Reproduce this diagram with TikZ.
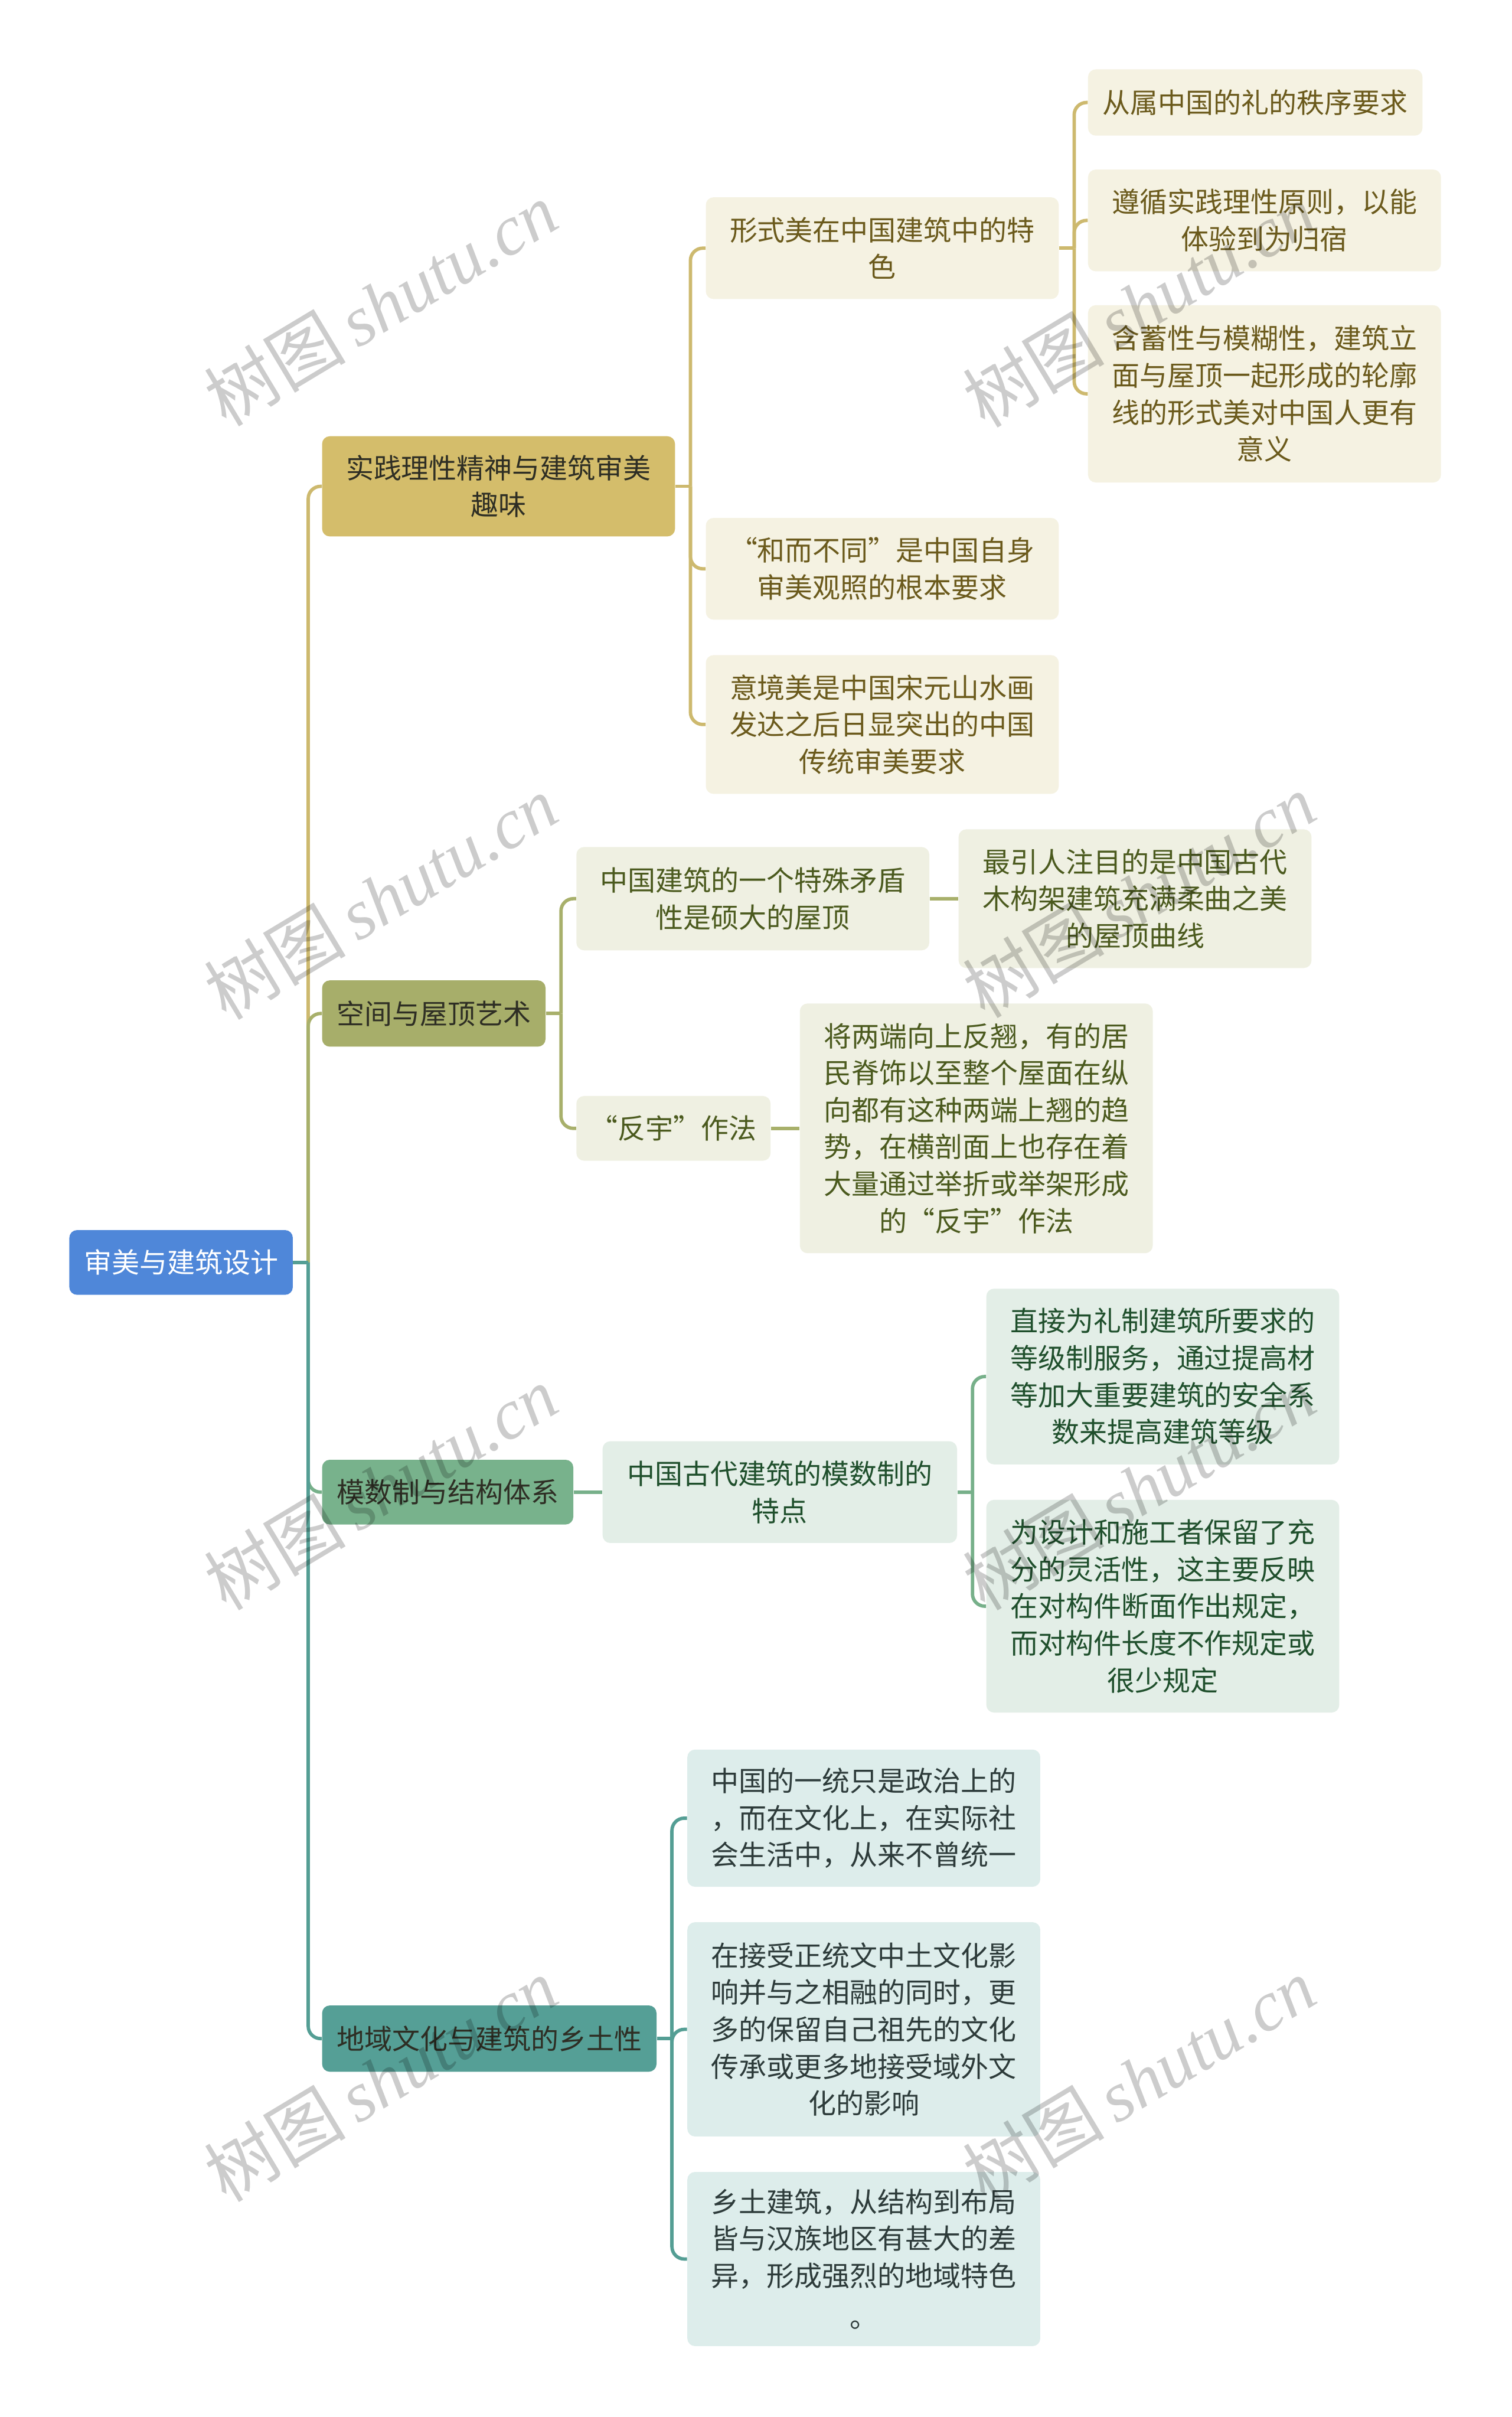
\documentclass[tikz,border=0pt]{standalone}
\usepackage{fontspec}
\setmainfont{Noto Sans CJK SC}
\newfontfamily\wmlatin{Liberation Serif}
\definecolor{rootfill}{HTML}{4F87D9}
\definecolor{goldfill}{HTML}{D4BD6B}
\definecolor{goldline}{HTML}{CDB96E}
\definecolor{goldlight}{HTML}{F5F2E2}
\definecolor{goldtext}{HTML}{6B5A1C}
\definecolor{olivefill}{HTML}{A7AE6A}
\definecolor{oliveline}{HTML}{A8B06B}
\definecolor{olivelight}{HTML}{EFF0E2}
\definecolor{olivetext}{HTML}{4B5A1E}
\definecolor{greenfill}{HTML}{78B28C}
\definecolor{greenline}{HTML}{77B08A}
\definecolor{greenlight}{HTML}{E3EEE7}
\definecolor{greentext}{HTML}{1F4F2C}
\definecolor{tealfill}{HTML}{559F96}
\definecolor{tealline}{HTML}{549E94}
\definecolor{teallight}{HTML}{DDEDEB}
\definecolor{tealtext}{HTML}{2D3B3A}
\definecolor{darktext}{HTML}{2E2E24}
\tikzset{
  box/.style={rounded corners=5pt, align=center, inner sep=0pt, font=\fontsize{18pt}{24pt}\selectfont},
  rootbox/.style={box, fill=rootfill, text=white},
  goldmain/.style={box, fill=goldfill, text=darktext},
  goldsub/.style={box, fill=goldlight, text=goldtext},
  olivemain/.style={box, fill=olivefill, text=darktext},
  olivesub/.style={box, fill=olivelight, text=olivetext},
  greenmain/.style={box, fill=greenfill, text=darktext},
  greensub/.style={box, fill=greenlight, text=greentext},
  tealmain/.style={box, fill=tealfill, text=darktext},
  tealsub/.style={box, fill=teallight, text=tealtext},
  conn/.style={line width=2.2pt, rounded corners=8pt},
  goldconn/.style={conn, draw=goldline},
  oliveconn/.style={conn, draw=oliveline},
  greenconn/.style={conn, draw=greenline},
  tealconn/.style={conn, draw=tealline},
  wm/.style={rotate=31, text=black, opacity=0.2, inner sep=0pt}
}
\begin{document}
\begin{tikzpicture}[x=1pt, y=-1pt]
\useasboundingbox (0,0) rectangle (981,1568);
\fill[white] (0,0) rectangle (981,1568);

% nodes
\node[rootbox, minimum width=145pt, minimum height=42pt] (root) at (117.5,819) {审美与建筑设计};

\node[goldmain, minimum width=229pt, minimum height=65pt] (b1) at (323.5,315.5) {实践理性精神与建筑审美\\趣味};
\node[goldsub, minimum width=229pt, minimum height=66pt] (c1) at (572.5,161) {形式美在中国建筑中的特\\色};
\node[goldsub, minimum width=229pt, minimum height=66pt] (c2) at (572.5,369) {“和而不同”是中国自身\\审美观照的根本要求};
\node[goldsub, minimum width=229pt, minimum height=90pt] (c3) at (572.5,470) {意境美是中国宋元山水画\\发达之后日显突出的中国\\传统审美要求};
\node[goldsub, minimum width=217pt, minimum height=43pt] (g1) at (814.5,66.5) {从属中国的礼的秩序要求};
\node[goldsub, minimum width=229pt, minimum height=66pt] (g2) at (820.5,143) {遵循实践理性原则，以能\\体验到为归宿};
\node[goldsub, minimum width=229pt, minimum height=115pt] (g3) at (820.5,255.5) {含蓄性与模糊性，建筑立\\面与屋顶一起形成的轮廓\\线的形式美对中国人更有\\意义};

\node[olivemain, minimum width=145pt, minimum height=43pt] (b2) at (281.5,657.5) {空间与屋顶艺术};
\node[olivesub, minimum width=229pt, minimum height=67pt] (c4) at (488.5,583) {中国建筑的一个特殊矛盾\\性是硕大的屋顶};
\node[olivesub, minimum width=126pt, minimum height=42pt] (c5) at (437,732) {“反宇”作法};
\node[olivesub, minimum width=229pt, minimum height=90pt] (g4) at (736.5,583) {最引人注目的是中国古代\\木构架建筑充满柔曲之美\\的屋顶曲线};
\node[olivesub, minimum width=229pt, minimum height=162pt] (g5) at (633.5,732) {将两端向上反翘，有的居\\民脊饰以至整个屋面在纵\\向都有这种两端上翘的趋\\势，在横剖面上也存在着\\大量通过举折或举架形成\\的“反宇”作法};

\node[greenmain, minimum width=163pt, minimum height=42pt] (b3) at (290.5,968) {模数制与结构体系};
\node[greensub, minimum width=230pt, minimum height=66pt] (c6) at (506,968) {中国古代建筑的模数制的\\特点};
\node[greensub, minimum width=229pt, minimum height=114pt] (g6) at (754.5,893) {直接为礼制建筑所要求的\\等级制服务，通过提高材\\等加大重要建筑的安全系\\数来提高建筑等级};
\node[greensub, minimum width=229pt, minimum height=138pt] (g7) at (754.5,1042) {为设计和施工者保留了充\\分的灵活性，这主要反映\\在对构件断面作出规定，\\而对构件长度不作规定或\\很少规定};

\node[tealmain, minimum width=217pt, minimum height=43pt] (b4) at (317.5,1322.5) {地域文化与建筑的乡土性};
\node[tealsub, minimum width=229pt, minimum height=89pt] (c7) at (560.5,1179.5) {中国的一统只是政治上的\\，而在文化上，在实际社\\会生活中，从来不曾统一};
\node[tealsub, minimum width=229pt, minimum height=139pt] (c8) at (560.5,1316.5) {在接受正统文中土文化影\\响并与之相融的同时，更\\多的保留自己祖先的文化\\传承或更多地接受域外文\\化的影响};
\node[tealsub, minimum width=229pt, minimum height=113pt] (c9) at (560.5,1465.5) {乡土建筑，从结构到布局\\皆与汉族地区有甚大的差\\异，形成强烈的地域特色\\[3pt]。};

% junction coordinates
\coordinate (rt) at (200,819);
\coordinate (j1) at (448,315.5);
\coordinate (jc1) at (697,161);
\coordinate (j2) at (364,657.5);
\coordinate (j3) at (631,968);
\coordinate (j4) at (436,1322.5);

% trunk connectors
\draw[goldconn] (rt) |- (b1.west);
\draw[oliveconn] (rt) |- (b2.west);
\draw[greenconn] (rt) |- (b3.west);
\draw[tealconn] (rt) |- (b4.west);
\draw[tealconn] (root.east) -- (rt);

% gold branch
\draw[goldconn] (b1.east) -- (j1);
\draw[goldconn] (j1) |- (c1.west);
\draw[goldconn] (j1) |- (c2.west);
\draw[goldconn] (j1) |- (c3.west);
\draw[goldconn] (c1.east) -- (jc1);
\draw[goldconn] (jc1) |- (g1.west);
\draw[goldconn] (jc1) |- (g2.west);
\draw[goldconn] (jc1) |- (g3.west);

% olive branch
\draw[oliveconn] (b2.east) -- (j2);
\draw[oliveconn] (j2) |- (c4.west);
\draw[oliveconn] (j2) |- (c5.west);
\draw[oliveconn] (c4.east) -- (g4.west);
\draw[oliveconn] (c5.east) -- (g5.west);

% green branch
\draw[greenconn] (b3.east) -- (c6.west);
\draw[greenconn] (c6.east) -- (j3);
\draw[greenconn] (j3) |- (g6.west);
\draw[greenconn] (j3) |- (g7.west);

% teal branch
\draw[tealconn] (b4.east) -- (j4);
\draw[tealconn] (j4) |- (c7.west);
\draw[tealconn] (j4) |- (c8.west);
\draw[tealconn] (j4) |- (c9.west);

% watermarks
\foreach \wx/\wy [count=\i] in {247/197, 247/582, 247/965, 247/1349, 739/198, 739/581, 739/965, 739/1349}{
  \node[wm] (wm\i) at (\wx,\wy) {\fontsize{46pt}{46pt}\selectfont 树图\,{\wmlatin\itshape shutu.cn}};
}
\end{tikzpicture}
\end{document}
